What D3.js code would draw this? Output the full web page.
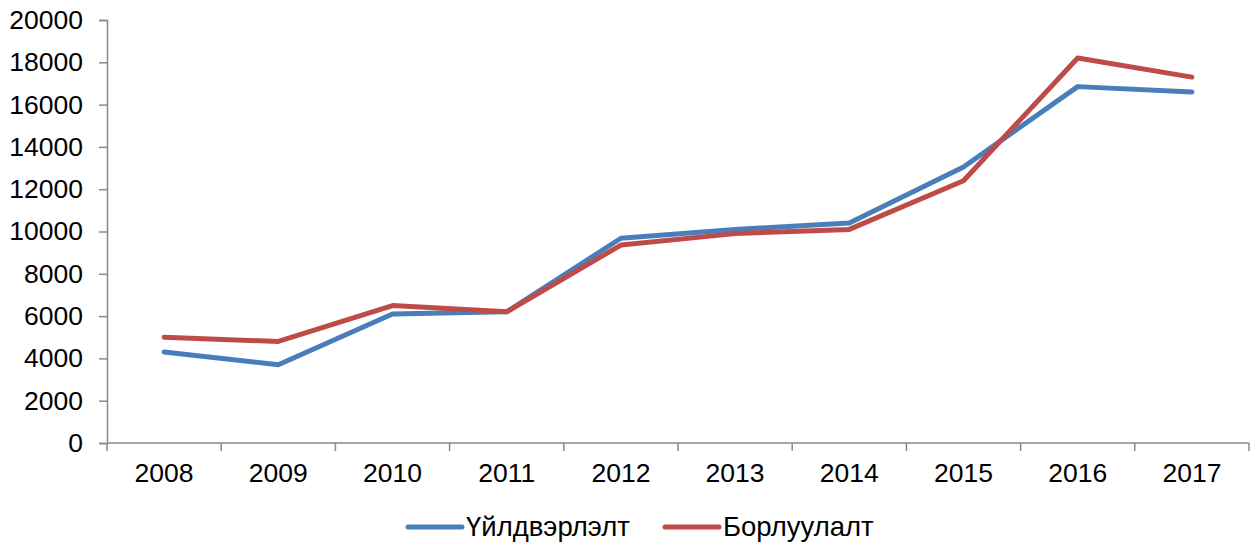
<!DOCTYPE html>
<html>
<head>
<meta charset="utf-8">
<script src="https://cdn.jsdelivr.net/npm/d3@7"></script>
<style>
  body { margin: 0; background: #fff; }
  text { font-family: "Liberation Sans", Arial, sans-serif; fill: #000; }
</style>
</head>
<body>
<script>
// chart data
var years = ["2008", "2009", "2010", "2011", "2012", "2013", "2014", "2015", "2016", "2017"];
var production = [4300, 3700, 6100, 6200, 9680, 10100, 10400, 13050, 16850, 16600];
var sales = [5000, 4800, 6500, 6200, 9360, 9900, 10100, 12400, 18200, 17300];
var seriesNames = ["Үйлдвэрлэлт", "Борлуулалт"];
var yTicks = [0, 2000, 4000, 6000, 8000, 10000, 12000, 14000, 16000, 18000, 20000];

var width = 1253, height = 543;
var plotLeft = 107, plotRight = 1249, plotTop = 20, plotBottom = 443;
var colors = ["#4a7ebb", "#be4b48"];
var axisColor = "#898989";
var fontSize = 26.5;

var svg = d3.select("body").append("svg")
    .attr("width", width)
    .attr("height", height);

var x = d3.scaleBand().domain(years).range([plotLeft, plotRight]);
var y = d3.scaleLinear().domain([0, 20000]).range([plotBottom, plotTop]);

//y axis
var yAxis = svg.append("g")
    .attr("transform", "translate(" + plotLeft + ",0)")
    .call(d3.axisLeft(y).tickValues(yTicks).tickSize(8).tickPadding(16).tickFormat(d3.format("d")));
yAxis.select(".domain").attr("stroke", axisColor).attr("stroke-width", 1.5);
yAxis.selectAll(".tick line").attr("stroke", axisColor).attr("stroke-width", 1.5);
yAxis.selectAll("text").attr("font-size", fontSize).attr("fill", "#000")
    .attr("font-family", "Liberation Sans, Arial, sans-serif");

//x axis: line plus ticks at band edges
svg.append("line")
    .attr("x1", plotLeft).attr("x2", plotRight)
    .attr("y1", plotBottom).attr("y2", plotBottom)
    .attr("stroke", axisColor).attr("stroke-width", 1.5);

var edges = years.map(function(d){ return x(d); }).concat([plotRight]);
svg.selectAll(".xtick")
    .data(edges)
    .enter().append("line")
    .attr("class", "xtick")
    .attr("x1", function(d){ return d; }).attr("x2", function(d){ return d; })
    .attr("y1", plotBottom).attr("y2", plotBottom + 8)
    .attr("stroke", axisColor).attr("stroke-width", 1.5);

svg.selectAll(".xlabel")
    .data(years)
    .enter().append("text")
    .attr("class", "xlabel")
    .attr("x", function(d){ return x(d) + x.bandwidth() / 2; })
    .attr("y", 482)
    .attr("text-anchor", "middle")
    .attr("font-size", fontSize)
    .text(function(d){ return d; });

//lines
var line = d3.line()
    .x(function(d, i){ return x(years[i]) + x.bandwidth() / 2; })
    .y(function(d){ return y(d); });

[production, sales].forEach(function(vals, i){
    svg.append("path")
        .datum(vals)
        .attr("fill", "none")
        .attr("stroke", colors[i])
        .attr("stroke-width", 5)
        .attr("stroke-linecap", "round")
        .attr("stroke-linejoin", "round")
        .attr("d", line);
});

//legend
var legendX = [408, 665];
seriesNames.forEach(function(name, i){
    svg.append("line")
        .attr("x1", legendX[i]).attr("x2", legendX[i] + 54)
        .attr("y1", 527).attr("y2", 527)
        .attr("stroke", colors[i])
        .attr("stroke-width", 5)
        .attr("stroke-linecap", "round");
    svg.append("text")
        .attr("x", legendX[i] + 58)
        .attr("y", 536)
        .attr("font-size", 27.5)
        .text(name);
});
</script>
</body>
</html>
